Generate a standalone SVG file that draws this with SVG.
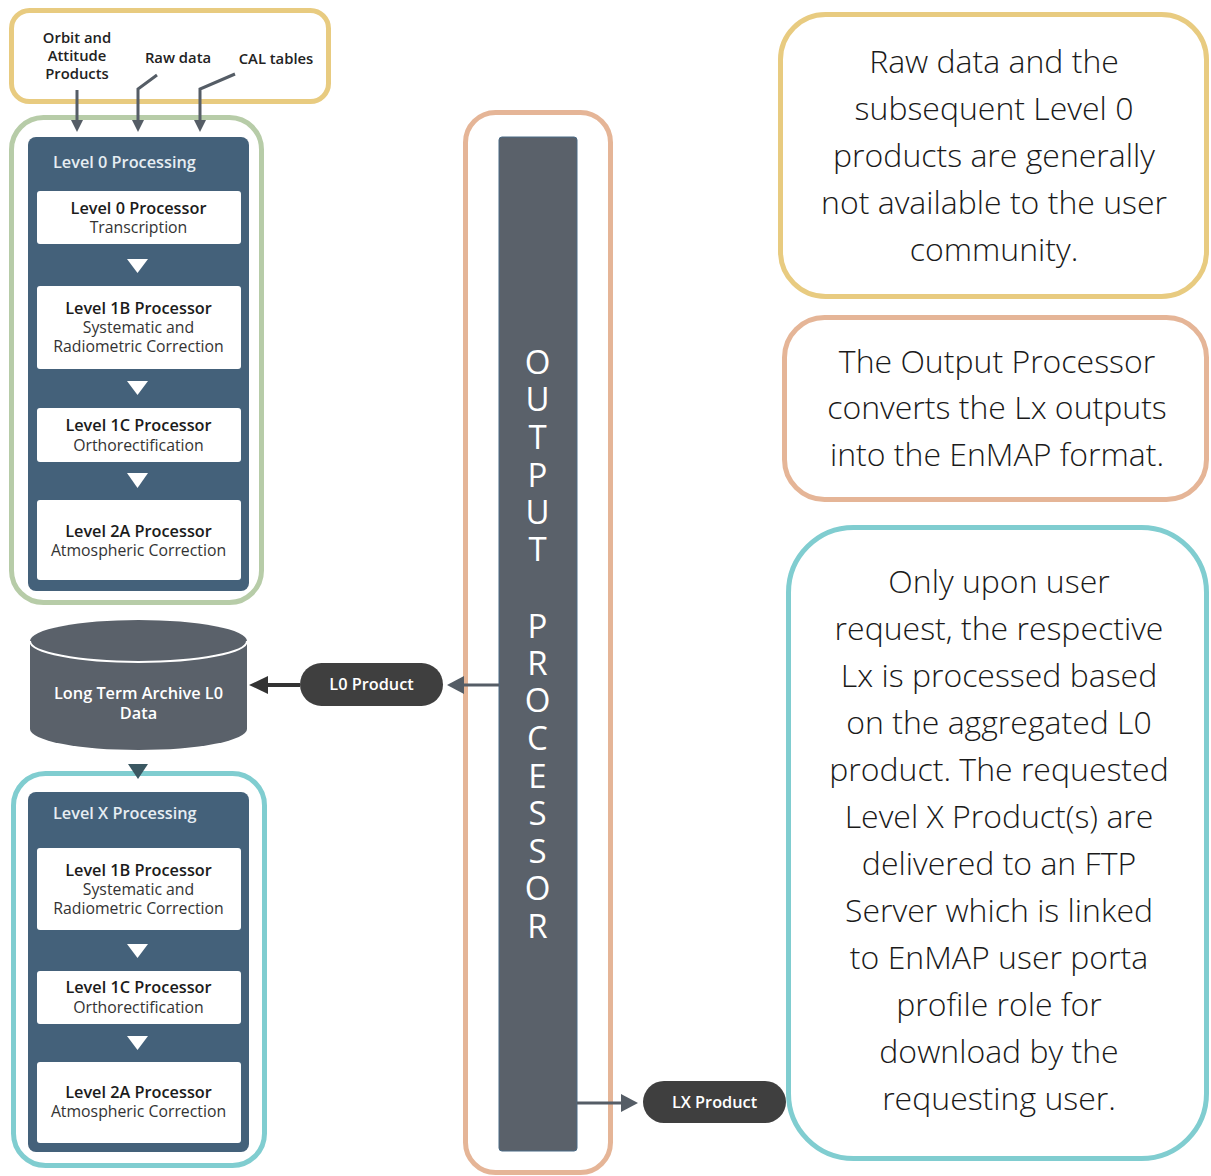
<svg xmlns="http://www.w3.org/2000/svg" width="1211" height="1176" viewBox="0 0 1211 1176">
<style>
  .frame { fill: #ffffff; stroke-width: 5; }
  .panel { fill: #44617A; }
  .box { fill: #ffffff; }
  .ptitle { font-family: "Open Sans", "Liberation Sans", sans-serif; font-size: 16.3px; font-weight: 600; fill: #E6EDF2; }
  .bt { font-family: "Open Sans", "Liberation Sans", sans-serif; font-size: 16.3px; font-weight: 600; fill: #1b1b1b; text-anchor: middle; }
  .bs { font-family: "Open Sans", "Liberation Sans", sans-serif; font-size: 15.8px; font-weight: 400; fill: #333333; text-anchor: middle; }
  .tri { fill: #ffffff; }
  .inlbl { font-family: "Open Sans", "Liberation Sans", sans-serif; font-size: 14.8px; font-weight: 600; fill: #222222; text-anchor: middle; }
  .note { font-family: "Open Sans", "Liberation Sans", sans-serif; font-size: 32px; font-weight: 300; fill: #1a1a1a; text-anchor: middle; }
  .pill { fill: #3F3F3F; }
  .pilltxt { font-family: "Open Sans", "Liberation Sans", sans-serif; font-size: 16.3px; font-weight: 600; fill: #ffffff; text-anchor: middle; }
  .vert { font-family: "Open Sans", "Liberation Sans", sans-serif; font-size: 33px; font-weight: 400; fill: #ffffff; text-anchor: middle; }
  .conn { fill: none; stroke: #555D66; stroke-width: 3; }
  .head { fill: #555D66; }
</style>

<!-- Inputs -->
<g id="inputs">
  <rect class="frame" x="11.5" y="10.5" width="317" height="91" rx="18" stroke="#E8CB80"/>
  <text class="inlbl" x="77" y="43">Orbit and</text>
  <text class="inlbl" x="77" y="61">Attitude</text>
  <text class="inlbl" x="77" y="79">Products</text>
  <text class="inlbl" x="178" y="63">Raw data</text>
  <text class="inlbl" x="276" y="64">CAL tables</text>
</g>

<!-- Level 0 processing -->
<g id="level0">
  <rect class="frame" x="11.5" y="117.5" width="250" height="485" rx="32" stroke="#B7CCA8"/>
  <rect class="panel" x="28" y="137" width="221" height="454" rx="8"/>
  <text class="ptitle" x="53" y="168">Level 0 Processing</text>
  <rect class="box" x="37" y="191" width="204" height="53" rx="3"/>
  <text class="bt" x="138.5" y="214">Level 0 Processor</text>
  <text class="bs" x="138.5" y="233">Transcription</text>
  <polygon class="tri" points="127,259 148,259 137.5,273"/>
  <rect class="box" x="37" y="286" width="204" height="83" rx="3"/>
  <text class="bt" x="138.5" y="314">Level 1B Processor</text>
  <text class="bs" x="138.5" y="333">Systematic and</text>
  <text class="bs" x="138.5" y="352">Radiometric Correction</text>
  <polygon class="tri" points="127,381 148,381 137.5,395"/>
  <rect class="box" x="37" y="408" width="204" height="54" rx="3"/>
  <text class="bt" x="138.5" y="431">Level 1C Processor</text>
  <text class="bs" x="138.5" y="451">Orthorectification</text>
  <polygon class="tri" points="127,473 148,473 137.5,488"/>
  <rect class="box" x="37" y="500" width="204" height="80" rx="3"/>
  <text class="bt" x="138.5" y="537">Level 2A Processor</text>
  <text class="bs" x="138.5" y="556">Atmospheric Correction</text>
</g>

<!-- Archive -->
<g id="archive">
  <path d="M30,641 A108.5,21 0 0 1 247,641 L247,729 A108.5,21 0 0 1 30,729 Z" fill="#5A616A"/>
  <path d="M30,641 A108.5,21 0 0 0 247,641" fill="none" stroke="#ffffff" stroke-width="2"/>
  <text class="pilltxt" x="138.5" y="699">Long Term Archive L0</text>
  <text class="pilltxt" x="138.5" y="719">Data</text>
</g>

<!-- Level X processing -->
<g id="levelx">
  <rect class="frame" x="13.5" y="773.5" width="251" height="392" rx="32" stroke="#80CDD0"/>
  <rect class="panel" x="28" y="792" width="221" height="360" rx="8"/>
  <text class="ptitle" x="53" y="819">Level X Processing</text>
  <rect class="box" x="37" y="848" width="204" height="82" rx="3"/>
  <text class="bt" x="138.5" y="876">Level 1B Processor</text>
  <text class="bs" x="138.5" y="895">Systematic and</text>
  <text class="bs" x="138.5" y="914">Radiometric Correction</text>
  <polygon class="tri" points="127,944 148,944 137.5,958"/>
  <rect class="box" x="37" y="971" width="204" height="53" rx="3"/>
  <text class="bt" x="138.5" y="993">Level 1C Processor</text>
  <text class="bs" x="138.5" y="1013">Orthorectification</text>
  <polygon class="tri" points="127,1036 148,1036 137.5,1050"/>
  <rect class="box" x="37" y="1062" width="204" height="81" rx="3"/>
  <text class="bt" x="138.5" y="1098">Level 2A Processor</text>
  <text class="bs" x="138.5" y="1117">Atmospheric Correction</text>
</g>

<!-- Output processor -->
<g id="output-processor">
  <rect class="frame" x="465.5" y="112.5" width="145" height="1060" rx="30" stroke="#E5B597"/>
  <rect x="499" y="137" width="78" height="1014" rx="3" fill="#5A616A" stroke="#4A6A85" stroke-width="1"/>
  <text class="vert" x="537.5" y="374"><tspan x="537.5" y="374">O</tspan><tspan x="537.5" y="411">U</tspan><tspan x="537.5" y="449">T</tspan><tspan x="537.5" y="487">P</tspan><tspan x="537.5" y="524">U</tspan><tspan x="537.5" y="561">T</tspan><tspan x="537.5" y="638">P</tspan><tspan x="537.5" y="675">R</tspan><tspan x="537.5" y="712">O</tspan><tspan x="537.5" y="750">C</tspan><tspan x="537.5" y="788">E</tspan><tspan x="537.5" y="825">S</tspan><tspan x="537.5" y="863">S</tspan><tspan x="537.5" y="900">O</tspan><tspan x="537.5" y="938">R</tspan></text>
</g>

<!-- Product pills -->
<g id="l0-product">
  <rect class="pill" x="300" y="663" width="143" height="43" rx="21.5"/>
  <text class="pilltxt" x="371.5" y="690">L0 Product</text>
</g>
<g id="lx-product">
  <rect class="pill" x="643" y="1081" width="143" height="42" rx="21"/>
  <text class="pilltxt" x="714.5" y="1108">LX Product</text>
</g>

<!-- Notes -->
<g id="note-raw">
  <rect class="frame" x="780.5" y="14.5" width="426" height="282" rx="45" stroke="#E8CB80"/>
  <text class="note" x="994" y="73">Raw data and the</text>
  <text class="note" x="994" y="120">subsequent Level 0</text>
  <text class="note" x="994" y="167">products are generally</text>
  <text class="note" x="994" y="214">not available to the user</text>
  <text class="note" x="994" y="261">community.</text>
</g>
<g id="note-output">
  <rect class="frame" x="784.5" y="317.5" width="422" height="182" rx="40" stroke="#E5B597"/>
  <text class="note" x="997" y="373">The Output Processor</text>
  <text class="note" x="997" y="419">converts the Lx outputs</text>
  <text class="note" x="997" y="466">into the EnMAP format.</text>
</g>
<g id="note-request">
  <rect class="frame" x="788.5" y="527.5" width="418" height="631" rx="65" stroke="#80CDD0"/>
  <text class="note" x="999" y="593">Only upon user</text>
  <text class="note" x="999" y="640">request, the respective</text>
  <text class="note" x="999" y="687">Lx is processed based</text>
  <text class="note" x="999" y="734">on the aggregated L0</text>
  <text class="note" x="999" y="781">product. The requested</text>
  <text class="note" x="999" y="828">Level X Product(s) are</text>
  <text class="note" x="999" y="875">delivered to an FTP</text>
  <text class="note" x="999" y="922">Server which is linked</text>
  <text class="note" x="999" y="969">to EnMAP user porta</text>
  <text class="note" x="999" y="1016">profile role for</text>
  <text class="note" x="999" y="1063">download by the</text>
  <text class="note" x="999" y="1110">requesting user.</text>
</g>

<!-- Connectors -->
<g id="connectors">
  <path class="conn" d="M77,90 L77,121"/>
  <polygon class="head" points="71,120 83,120 77,132"/>
  <path class="conn" d="M157,75 L138,89 L138,121"/>
  <polygon class="head" points="132,120 144,120 138,132"/>
  <path class="conn" d="M235,74 L200,89 L200,121"/>
  <polygon class="head" points="194,120 206,120 200,132"/>

  <path class="conn" d="M499,685 L462,685"/>
  <polygon class="head" points="447,685 464,676 464,694"/>

  <path d="M300,685 L265,685" fill="none" stroke="#333333" stroke-width="4"/>
  <polygon points="249,685 268,676 268,694" fill="#333333"/>

  <polygon points="128,764 148,764 138,779" fill="#3B5862"/>

  <path class="conn" d="M577,1103 L623,1103"/>
  <polygon class="head" points="638,1103 621,1094 621,1112"/>
</g>
</svg>
